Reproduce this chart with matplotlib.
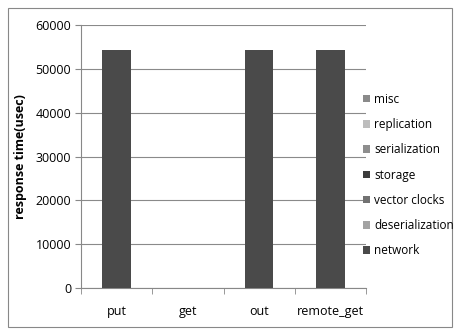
import matplotlib
matplotlib.use("Agg")
import matplotlib.pyplot as plt
from matplotlib.patches import Rectangle, Patch
import numpy as np

categories = ["put", "get", "out", "remote_get"]
network = [54300, 0, 54300, 54300]
deserialization = [0, 0, 0, 0]
vector_clocks = [0, 0, 0, 0]
storage = [0, 0, 0, 0]
serialization = [0, 0, 0, 0]
replication = [0, 0, 0, 0]
misc = [0, 0, 0, 0]

series = [
    ("network", network, "#4a4a4a"),
    ("deserialization", deserialization, "#a3a3a3"),
    ("vector clocks", vector_clocks, "#727272"),
    ("storage", storage, "#3c3c3c"),
    ("serialization", serialization, "#8e8e8e"),
    ("replication", replication, "#bdbdbd"),
    ("misc", misc, "#8a8a8a"),
]

plt.rcParams['font.family'] = ['Open Sans', 'DejaVu Sans']
fig = plt.figure(figsize=(4.55, 3.3), dpi=100)
fig.patches.append(Rectangle((8/455, 3/330), 444/455, 319/330, transform=fig.transFigure,
                             fill=False, edgecolor="#888888", linewidth=0.8))
ax = fig.add_axes([81/455, 42/330, 285/455, 263/330])

x = np.arange(len(categories))
bottom = np.zeros(len(categories))
for name, vals, col in series:
    ax.bar(x, vals, 0.4, bottom=bottom, color=col, label=name, zorder=3)
    bottom += np.array(vals)

ax.set_xlim(-0.5, len(categories) - 0.5)
ax.set_ylim(0, 60000)
ax.set_yticks(np.arange(0, 60001, 10000))
ax.yaxis.grid(True, color="#8a8a8a", linewidth=0.8, zorder=0)
ax.set_xticks(x)
ax.set_xticklabels(categories, fontsize=9)
ax.set_xticks(np.arange(-0.5, len(categories)), minor=True)
ax.tick_params(axis='x', which='major', length=0, pad=12)
ax.tick_params(axis='x', which='minor', length=4, color="#888888", direction='out')
ax.tick_params(axis='y', length=4, color="#888888", labelsize=9, pad=3)
for s in ["top", "right"]:
    ax.spines[s].set_visible(False)
for s in ["left", "bottom"]:
    ax.spines[s].set_color("#888888")
ax.set_ylabel("response time(usec)", fontsize=9, fontweight="bold", labelpad=6)

handles = [Patch(facecolor=col, label=name) for name, vals, col in series][::-1]
fig.legend(handles=handles, loc="upper left", bbox_to_anchor=(358/455, 1 - 88/330),
           frameon=False, fontsize=8.5, handlelength=0.6, handleheight=0.6,
           handletextpad=0.35, labelspacing=1.04, borderaxespad=0)

fig.savefig("out.png", dpi=100)
